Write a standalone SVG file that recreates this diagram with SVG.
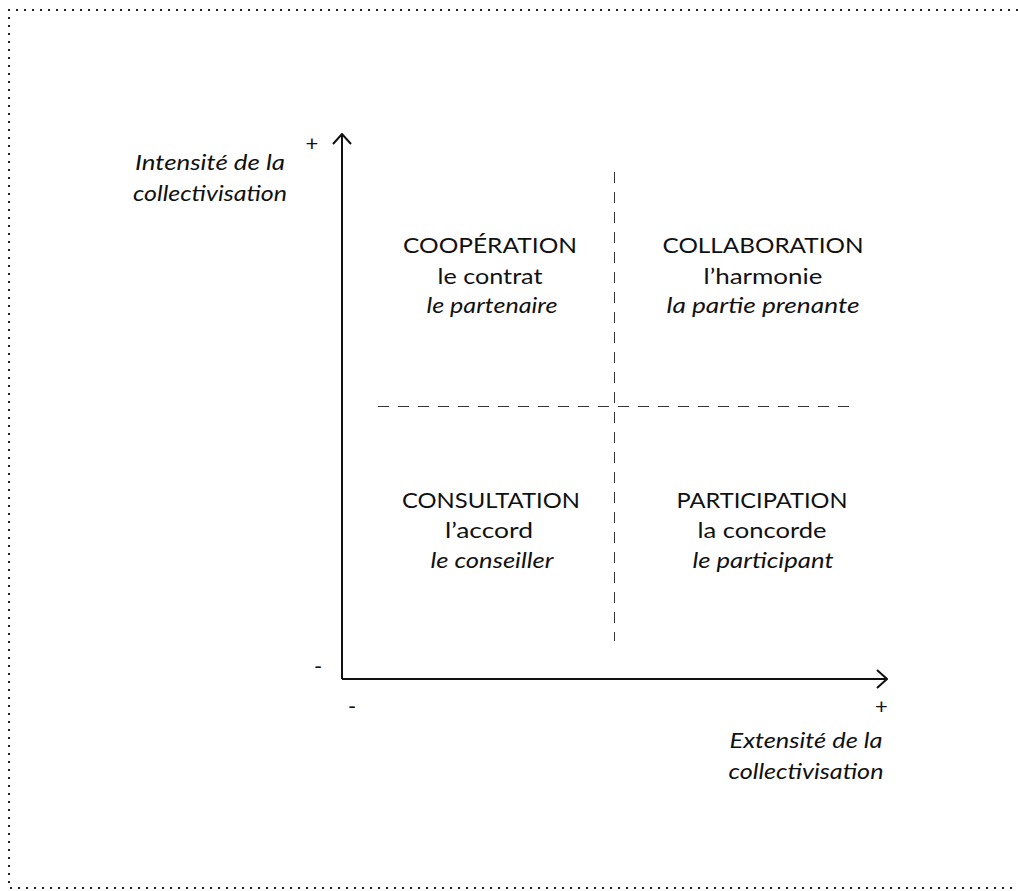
<svg xmlns="http://www.w3.org/2000/svg" width="1018" height="891" viewBox="0 0 1018 891">
<style>
  text { font-family: "Lato", "Open Sans", "DejaVu Sans", sans-serif; font-size: 21px; fill: #111; }
  .c { text-anchor: middle; }
  .i { font-style: italic; }
  .s { font-size: 22px; }
  .axis { stroke: #111; stroke-width: 2; fill: none; }
  .dash { stroke: #333; stroke-width: 1; stroke-dasharray: 11 9; fill: none; }
  .frame { stroke: #222; stroke-width: 2; stroke-dasharray: 2 6; fill: none; }
</style>
<defs>
  <marker id="chev" markerUnits="userSpaceOnUse" viewBox="0 0 12 20" refX="11" refY="10" markerWidth="12" markerHeight="20" orient="auto">
    <path d="M1,1 L11,10 L1,19" fill="none" stroke="#111" stroke-width="2"/>
  </marker>
</defs>
<rect width="1018" height="891" fill="#fff"/>
<path class="frame" d="M1018,10 H9 V888 H1018"/>
<g id="connectors">
  <path class="axis" d="M342,679 V134" marker-end="url(#chev)"/>
  <path class="axis" d="M342,679 H887" marker-end="url(#chev)"/>
  <path class="dash" d="M614.5,172 V641"/>
  <path class="dash" d="M378,406.5 H850"/>
</g>
<g id="signs">
  <text class="c s" x="312" y="151">+</text>
  <text class="c s" x="318" y="674">-</text>
  <text class="c s" x="352" y="714">-</text>
  <text class="c s" x="881.5" y="714">+</text>
</g>
<g id="y-label">
  <text class="c i" x="210" y="170" textLength="150" lengthAdjust="spacingAndGlyphs">Intensité de la</text>
  <text class="c i" x="210" y="201" textLength="154" lengthAdjust="spacingAndGlyphs">collectivisation</text>
</g>
<g id="x-label">
  <text class="c i" x="806" y="748" textLength="153" lengthAdjust="spacingAndGlyphs">Extensité de la</text>
  <text class="c i" x="806" y="779" textLength="155" lengthAdjust="spacingAndGlyphs">collectivisation</text>
</g>
<g id="cooperation">
  <text class="c" x="490" y="253" textLength="174" lengthAdjust="spacingAndGlyphs">COOPÉRATION</text>
  <text class="c" x="490" y="284" textLength="105" lengthAdjust="spacingAndGlyphs">le contrat</text>
  <text class="c i" x="492" y="313" textLength="131" lengthAdjust="spacingAndGlyphs">le partenaire</text>
</g>
<g id="collaboration">
  <text class="c" x="763" y="253" textLength="201" lengthAdjust="spacingAndGlyphs">COLLABORATION</text>
  <text class="c" x="763" y="284" textLength="119" lengthAdjust="spacingAndGlyphs">l’harmonie</text>
  <text class="c i" x="763" y="313" textLength="193" lengthAdjust="spacingAndGlyphs">la partie prenante</text>
</g>
<g id="consultation">
  <text class="c" x="491" y="508" textLength="178" lengthAdjust="spacingAndGlyphs">CONSULTATION</text>
  <text class="c" x="489" y="538" textLength="88" lengthAdjust="spacingAndGlyphs">l’accord</text>
  <text class="c i" x="492" y="568" textLength="123" lengthAdjust="spacingAndGlyphs">le conseiller</text>
</g>
<g id="participation">
  <text class="c" x="762" y="508" textLength="171" lengthAdjust="spacingAndGlyphs">PARTICIPATION</text>
  <text class="c" x="762" y="538" textLength="129" lengthAdjust="spacingAndGlyphs">la concorde</text>
  <text class="c i" x="763" y="568" textLength="141" lengthAdjust="spacingAndGlyphs">le participant</text>
</g>
</svg>
